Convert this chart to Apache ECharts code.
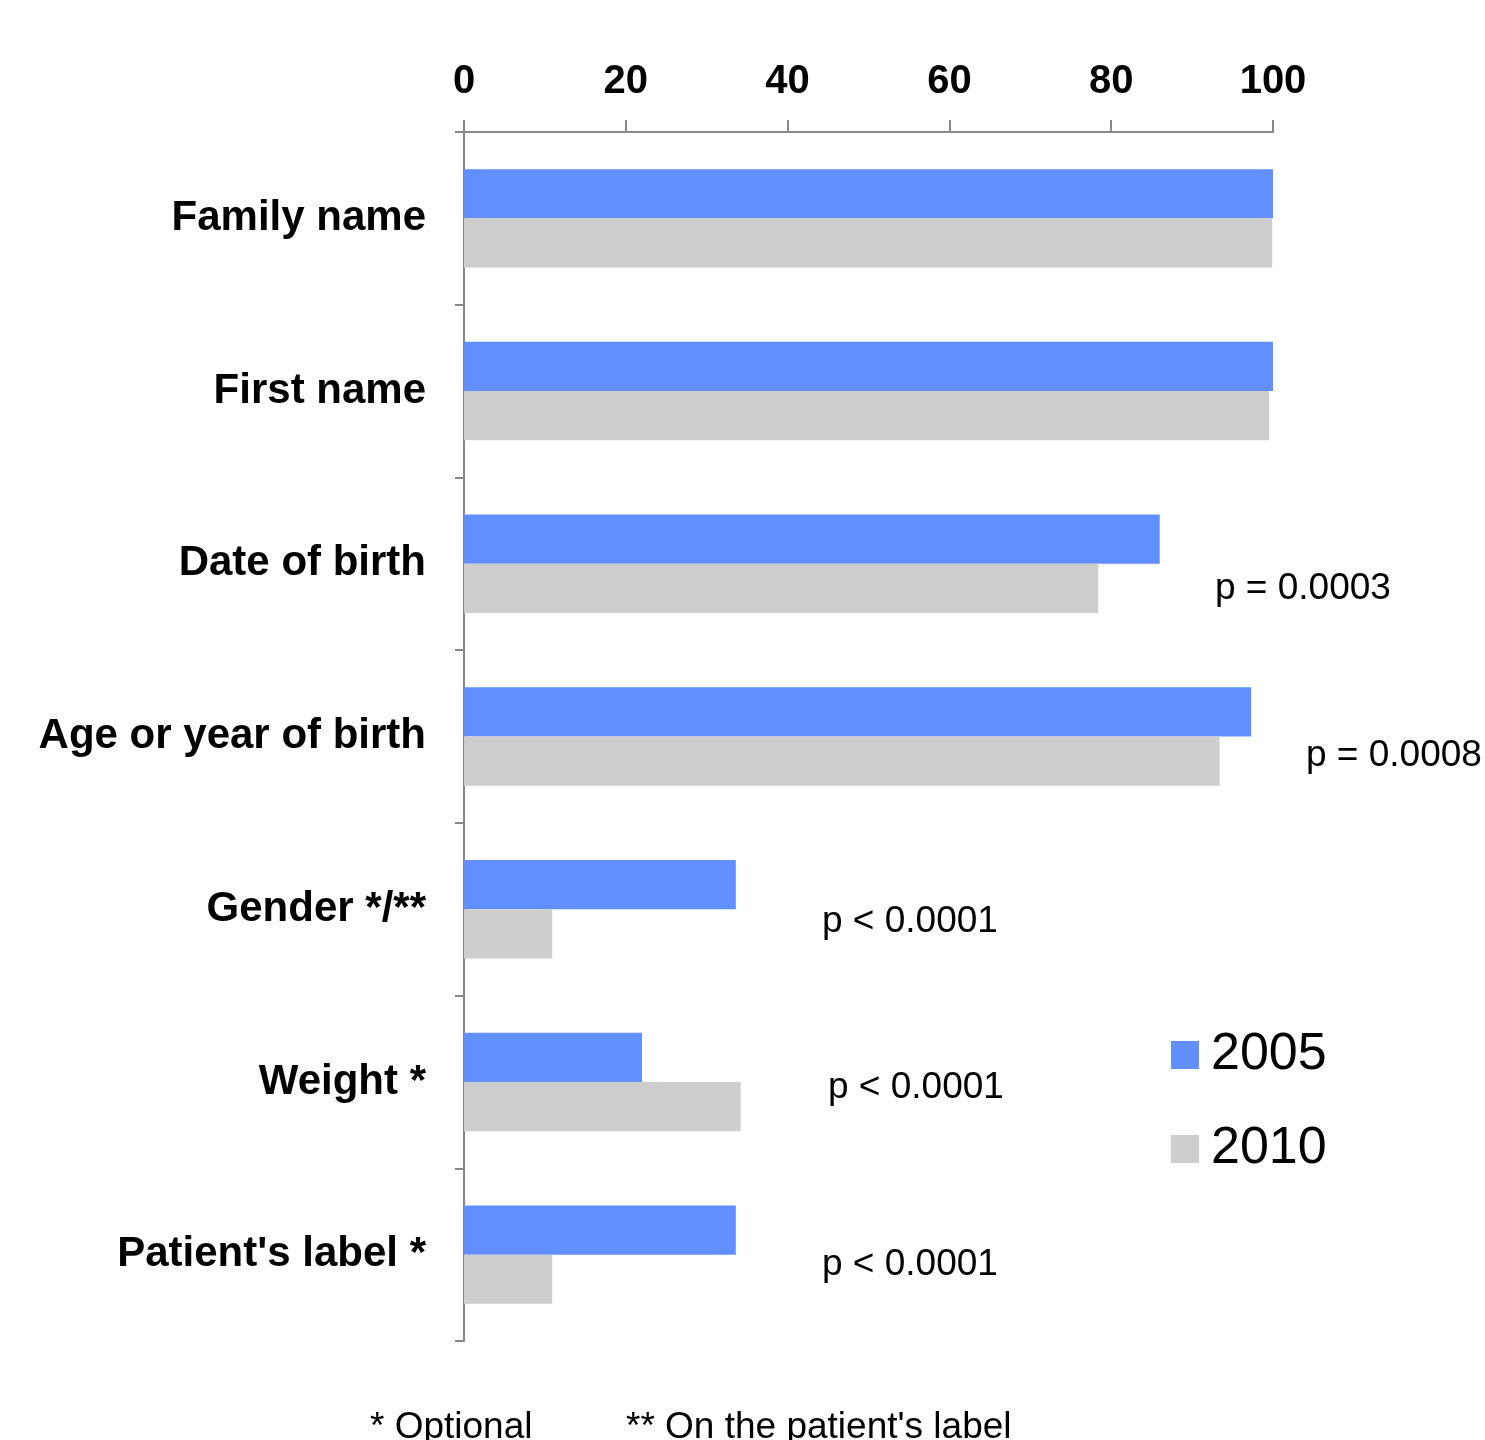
<!DOCTYPE html>
<html>
<head>
<meta charset="utf-8">
<script src="https://cdn.jsdelivr.net/npm/echarts@6/dist/echarts.min.js"></script>
<style>
  html, body { margin: 0; padding: 0; background: #fff; }
  #chart { width: 1485px; height: 1440px; }
</style>
</head>
<body>
<div id="chart"></div>
<script>
// data
var categories = ['Family name', 'First name', 'Date of birth', 'Age or year of birth', 'Gender */**', 'Weight *', "Patient's label *"];
var values2005 = [100, 100, 86, 97.3, 33.6, 22, 33.6];
var values2010 = [99.9, 99.5, 78.4, 93.4, 10.9, 34.2, 10.9];
var xTicks = [0, 20, 40, 60, 80, 100];
var pValues = ['p = 0.0003', 'p = 0.0008', 'p < 0.0001', 'p < 0.0001', 'p < 0.0001'];
var footnotes = ['* Optional', "** On the patient's label"];

var font = '"Liberation Sans", Arial, sans-serif';

// where the annotations sit (pixels)
var pPos = [[1215, 588], [1306, 755], [822, 921], [828, 1087], [822, 1264]];
var footPos = [[370, 1425], [626, 1425]];

var graphics = [];
pValues.forEach(function (t, i) {
  graphics.push({
    type: 'text', left: pPos[i][0], top: pPos[i][1] - 18,
    style: { text: t, font: '37px ' + font, fill: '#000' }
  });
});
footnotes.forEach(function (t, i) {
  graphics.push({
    type: 'text', left: footPos[i][0], top: footPos[i][1] - 16,
    style: { text: t, font: '37px ' + font, fill: '#000' }
  });
});

var chart = echarts.init(document.getElementById('chart'));
chart.setOption({
  animation: false,
  textStyle: { fontFamily: font },
  grid: { left: 464, right: 212, top: 132, bottom: 99, containLabel: false },
  legend: {
    orient: 'vertical',
    left: 1166,
    top: 1023,
    itemWidth: 28,
    itemHeight: 28,
    itemGap: 40,
    icon: 'rect',
    textStyle: { fontSize: 52, color: '#000', fontFamily: font, lineHeight: 54, padding: [0, 0, 0, 7] },
    data: ['2005', '2010']
  },
  xAxis: {
    type: 'value',
    position: 'top',
    min: 0,
    max: 100,
    interval: 20,
    splitLine: { show: false },
    axisLine: { show: true, lineStyle: { color: '#888', width: 2 } },
    axisTick: { show: true, length: 12, lineStyle: { color: '#888', width: 2 } },
    axisLabel: {
      margin: 30,
      fontSize: 40,
      fontWeight: 'bold',
      color: '#000',
      formatter: function (v) { return xTicks.indexOf(v) >= 0 ? String(v) : ''; }
    }
  },
  yAxis: {
    type: 'category',
    inverse: true,
    data: categories,
    axisLine: { show: true, lineStyle: { color: '#888', width: 2 } },
    axisTick: { show: true, length: 9, lineStyle: { color: '#888', width: 2 } },
    axisLabel: { margin: 38, fontSize: 42, fontWeight: 'bold', color: '#000', padding: [6, 0, 0, 0] }
  },
  series: [
    {
      name: '2005',
      type: 'bar',
      data: values2005,
      barGap: '0%',
      barCategoryGap: '43%',
      itemStyle: { color: '#628FFF' }
    },
    {
      name: '2010',
      type: 'bar',
      data: values2010,
      barGap: '0%',
      barCategoryGap: '43%',
      itemStyle: { color: '#CDCDCD' }
    }
  ],
  graphic: graphics
});
</script>
</body>
</html>
